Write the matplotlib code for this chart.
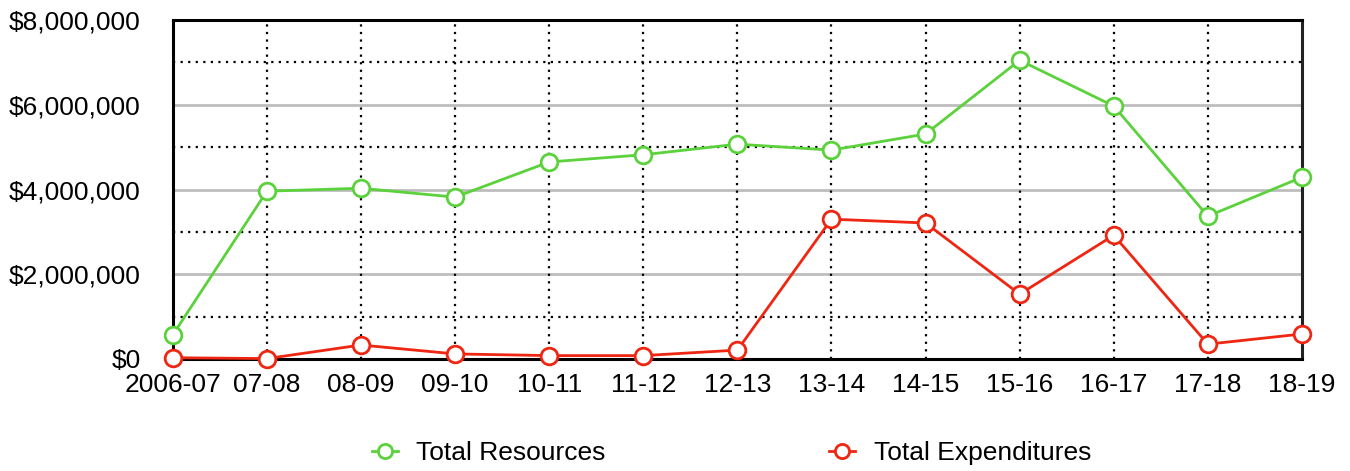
import matplotlib
matplotlib.use("Agg")
import matplotlib.pyplot as plt
from matplotlib.ticker import FuncFormatter, FixedLocator

plt.rcParams["font.family"] = ["Liberation Sans", "DejaVu Sans"]

years = ["2006-07", "07-08", "08-09", "09-10", "10-11", "11-12", "12-13",
         "13-14", "14-15", "15-16", "16-17", "17-18", "18-19"]
total_resources = [570000, 3960000, 4030000, 3820000, 4650000, 4820000, 5070000,
                   4930000, 5310000, 7050000, 5970000, 3370000, 4290000]
total_expenditures = [30000, 10000, 330000, 120000, 80000, 80000, 210000,
                      3300000, 3210000, 1530000, 2920000, 350000, 590000]

GREEN = "#5bd23b"
RED = "#ee2612"

fig = plt.figure(figsize=(13.5, 4.71), dpi=100)
ax = fig.add_axes([0.128, 0.2378, 0.8364, 0.7197])

x = list(range(len(years)))

# grid: solid grey at even millions, dotted black at odd millions + verticals
dots = (0, (1, 2.4))
for v in [2e6, 4e6, 6e6]:
    ax.axhline(v, color="#bdbdbd", linewidth=2, zorder=1)
for v in [1e6, 3e6, 5e6, 7e6]:
    ax.axhline(v, color="black", linewidth=1.6, linestyle=dots, zorder=1)
for xi in x[1:-1]:
    ax.axvline(xi, color="black", linewidth=1.6, linestyle=dots, zorder=1)

ax.plot(x, total_resources, color=GREEN, linewidth=2, marker="o", markersize=12,
        markerfacecolor="white", markeredgecolor=GREEN, markeredgewidth=2,
        label="Total Resources", zorder=3, clip_on=False)
ax.plot(x, total_expenditures, color=RED, linewidth=2, marker="o", markersize=12,
        markerfacecolor="white", markeredgecolor=RED, markeredgewidth=2,
        label="Total Expenditures", zorder=3, clip_on=False)

ax.set_xlim(0, len(years) - 1)
ax.set_ylim(0, 8e6)
ax.xaxis.set_major_locator(FixedLocator(x))
ax.set_xticklabels(years)
ax.yaxis.set_major_locator(FixedLocator([0, 2e6, 4e6, 6e6, 8e6]))
ax.yaxis.set_major_formatter(FuncFormatter(lambda v, p: f"${v:,.0f}"))
ax.tick_params(axis="both", length=0, labelsize=19)
ax.tick_params(axis="y", pad=23)
ax.tick_params(axis="x", pad=10)

for side in ["left", "bottom", "top"]:
    ax.spines[side].set_linewidth(2.2)
    ax.spines[side].set_color("black")
ax.spines["right"].set_linewidth(2.2)
ax.spines["right"].set_color("#222222")
ax.spines["left"].set_zorder(2)

fig.legend(loc="center", bbox_to_anchor=(0.5417, 0.038), ncol=2, frameon=False,
           fontsize=19, handlelength=1.0, handletextpad=0.7, columnspacing=8.45,
           markerscale=0.85)

fig.savefig("out.png", dpi=100)
